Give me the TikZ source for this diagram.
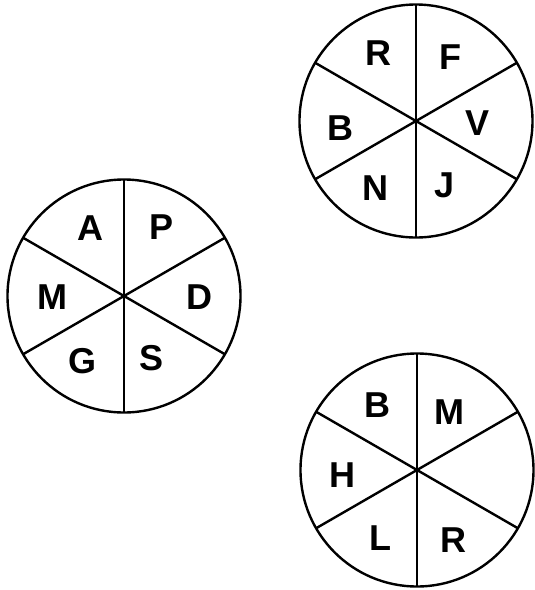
\documentclass[tikz,border=0pt]{standalone}
\usepackage{fontspec}
\setmainfont{Liberation Sans}
\begin{document}
\begin{tikzpicture}[x=1pt, y=-1pt,
        wheel/.style={draw=black, line width=2.4pt, circle, minimum size=233pt, inner sep=0pt, outer sep=0pt},
        spoke/.style={draw=black, line width=2.4pt},
        letter/.style={font=\fontsize{36}{36}\selectfont\bfseries, inner sep=0pt}]
        \useasboundingbox (0,0) rectangle (535,590);
        % the three wheels
        \node[wheel] (wheelL) at (124,296) {};
        \node[wheel] (wheelT) at (416,121) {};
        \node[wheel] (wheelB) at (417,470) {};
        \foreach \w in {wheelL, wheelT, wheelB} {
            \draw[spoke] (\w.90) -- (\w.270);
            \draw[spoke] (\w.30) -- (\w.210);
            \draw[spoke] (\w.150) -- (\w.330);
        }
        % left wheel
        \node[letter] (lA) at (90,228) {A};
        \node[letter] (lP) at (162,227) {P};
        \node[letter] (lM) at (52,297) {M};
        \node[letter] (lD) at (199,297) {D};
        \node[letter] (lG) at (83,361) {G};
        \node[letter] (lS) at (152,358) {S};
        % top wheel
        \node[letter] (tR) at (378,53) {R};
        \node[letter] (tF) at (450,57) {F};
        \node[letter] (tB) at (340,128) {B};
        \node[letter] (tV) at (478,123) {V};
        \node[letter] (tN) at (375,188) {N};
        \node[letter] (tJ) at (445,185) {J};
        % bottom wheel
        \node[letter] (bB) at (377,405) {B};
        \node[letter] (bM) at (449,412) {M};
        \node[letter] (bH) at (342,475) {H};
        \node[letter] (bL) at (380,538) {L};
        \node[letter] (bR) at (453,540) {R};
    \end{tikzpicture}
\end{document}
